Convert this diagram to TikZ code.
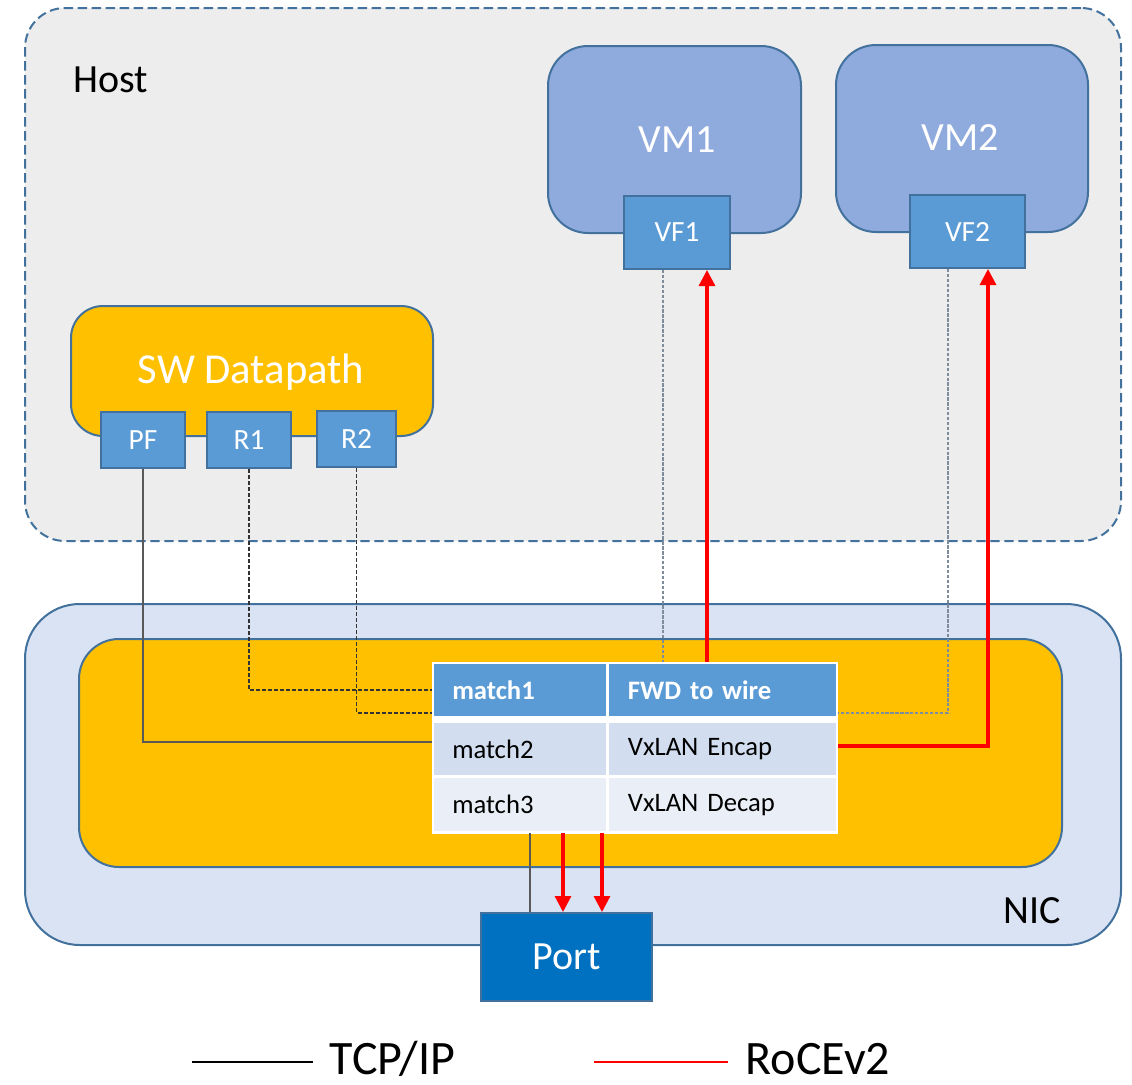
\documentclass[tikz,border=0pt]{standalone}
\usepackage{fontspec}
\setmainfont{Carlito}
\usetikzlibrary{arrows.meta,calc}
\definecolor{hostfill}{HTML}{EDEDED}
\definecolor{bord}{HTML}{41719C}
\definecolor{vmfill}{HTML}{8FAADC}
\definecolor{portblue}{HTML}{5B9BD5}
\definecolor{gold}{HTML}{FFC000}
\definecolor{nicfill}{HTML}{DAE3F3}
\definecolor{darkblue}{HTML}{0070C0}
\definecolor{bandone}{HTML}{D2DEEF}
\definecolor{bandtwo}{HTML}{EAEFF7}
\definecolor{wiregray}{HTML}{595959}
\definecolor{vfdash}{HTML}{7F8C9C}
\begin{document}
\begin{tikzpicture}[x=0.75pt,y=-0.75pt,
  box/.style={draw=bord,line width=1.5pt,inner sep=0pt,anchor=north west},
  portbox/.style={box,fill=portblue,text=white,font=\fontsize{22}{26}\selectfont},
  bigtxt/.style={font=\fontsize{30}{36}\selectfont},
  cell/.style={inner sep=0pt,anchor=north west,minimum height=39pt,text=black,font=\fontsize{20}{24}\selectfont,align=left},
  mcell/.style={minimum width=129pt,text width=129pt},
  fcell/.style={minimum width=170.25pt,text width=170.25pt},
  hcell/.style={cell,fill=portblue,text=white,font=\bfseries\fontsize{20}{24}\selectfont},
  tcp/.style={wiregray,line width=1.1pt},
  tcpdash/.style={black!80,line width=1pt,dash pattern=on 3pt off 1.5pt},
  vfd/.style={vfdash,line width=1pt,dash pattern=on 2.5pt off 1.2pt},
  roce/.style={red,line width=2.3pt},
  rocearrow/.style={roce,-{Triangle[length=12pt,width=12pt]}},
  legtxt/.style={anchor=base west,font=\fontsize{36}{42}\selectfont}
]
\useasboundingbox (0,0) rectangle (1132,1085);

% Host
\node[box,fill=hostfill,dash pattern=on 7pt off 3.5pt,rounded corners=30pt,minimum width=822pt,minimum height=399.75pt] (host) at (24,7) {};
\node[bigtxt] (hostlbl) at (111,80) {Host};

% VMs
\node[box,fill=vmfill,rounded corners=30pt,minimum width=189.75pt,minimum height=140.25pt] (vm1) at (547,45) {};
\node[bigtxt,text=white] (vm1lbl) at (677,140) {VM1};
\node[box,fill=vmfill,rounded corners=30pt,minimum width=189pt,minimum height=140.25pt] (vm2) at (835,44) {};
\node[bigtxt,text=white] (vm2lbl) at (960,138) {VM2};
\node[portbox,minimum width=79.5pt,minimum height=54.75pt] (vf1) at (623,195) {VF1};
\node[portbox,minimum width=86.25pt,minimum height=54.75pt] (vf2) at (909,194) {VF2};

% SW Datapath
\node[box,fill=gold,rounded corners=24pt,minimum width=271.5pt,minimum height=97.5pt] (swd) at (70,305) {};
\node[text=white,font=\fontsize{32}{38}\selectfont] (swdlbl) at (251,372) {SW Datapath};
\node[portbox,minimum width=63pt,minimum height=42pt] (pf) at (100,411) {PF};
\node[portbox,minimum width=63pt,minimum height=42pt] (r1) at (206,411) {R1};
\node[portbox,minimum width=59.25pt,minimum height=42pt] (r2) at (316,410) {R2};

% NIC
\node[box,fill=nicfill,rounded corners=41pt,minimum width=822pt,minimum height=255.75pt] (nic) at (24,603) {};
\node[bigtxt] (niclbl) at (1032,911) {NIC};
\node[box,fill=gold,rounded corners=30pt,minimum width=737.25pt,minimum height=171pt] (inner) at (78,638) {};

% Table
\node[fill=white,inner sep=0pt,anchor=north west,minimum width=304.5pt,minimum height=129pt] (tbl) at (432,662) {};
\node[hcell,mcell] (m1) at (434,664) {\hspace*{13.5pt}match1};
\node[hcell,fcell] (f1) at (609,664) {\hspace*{14pt}FWD to wire};
\node[cell,mcell,fill=bandone] (m2) at (434,723) {\hspace*{13.5pt}match2};
\node[cell,fcell,fill=bandone] (f2) at (609,723) {\hspace*{14pt}VxLAN Encap};
\node[cell,mcell,fill=bandtwo,minimum height=39.75pt] (m3) at (434,778) {\hspace*{13.5pt}match3};
\node[cell,fcell,fill=bandtwo,minimum height=39.75pt] (f3) at (609,778) {\hspace*{14pt}VxLAN Decap};

% Port
\node[box,fill=darkblue,text=white,font=\fontsize{30}{36}\selectfont,minimum width=128.25pt,minimum height=66pt] (port) at (480,912) {Port};

% coordinates on the table edges
\coordinate (tPF) at (432,742);
\coordinate (tR1) at (432,690);
\coordinate (tR2) at (432,713);
\coordinate (tVF1d) at (663,662);
\coordinate (tVF1r) at (707,662);
\coordinate (tVF2d) at (838,713);
\coordinate (tVF2r) at (838,746);
\coordinate (cVF2d) at (948,713);
\coordinate (cVF2r) at (988,746);
\coordinate (tP1) at (530,833);
\coordinate (tP2) at (563,833);
\coordinate (tP3) at (602,833);

% connectors
\draw[tcp] (pf.south) |- (tPF);
\draw[tcpdash] (r1.south) |- (tR1);
\draw[tcpdash] (r2.south) |- (tR2);
\draw[vfd] (vf1.south -| tVF1d) -- (tVF1d);
\draw[rocearrow] (tVF1r) -- (vf1.south -| tVF1r);
\draw[vfd] (vf2.south -| cVF2d) -- (cVF2d) -- (tVF2d);
\draw[rocearrow] (tVF2r) -- (cVF2r) -- (vf2.south -| cVF2r);
\draw[tcp] (tP1) -- (port.north -| tP1);
\draw[rocearrow] (tP2) -- (port.north -| tP2);
\draw[rocearrow] (tP3) -- (port.north -| tP3);

% legend
\coordinate (lA) at (192,1062);
\coordinate (lB) at (313,1062);
\coordinate (lC) at (594,1062);
\coordinate (lD) at (728,1062);
\draw[black,line width=1.1pt] (lA) -- (lB);
\node[legtxt] (tcplbl) at (325,1074) {TCP/IP};
\draw[red,line width=1.1pt] (lC) -- (lD);
\node[legtxt] (rocelbl) at (741,1074) {RoCEv2};
\end{tikzpicture}
\end{document}
